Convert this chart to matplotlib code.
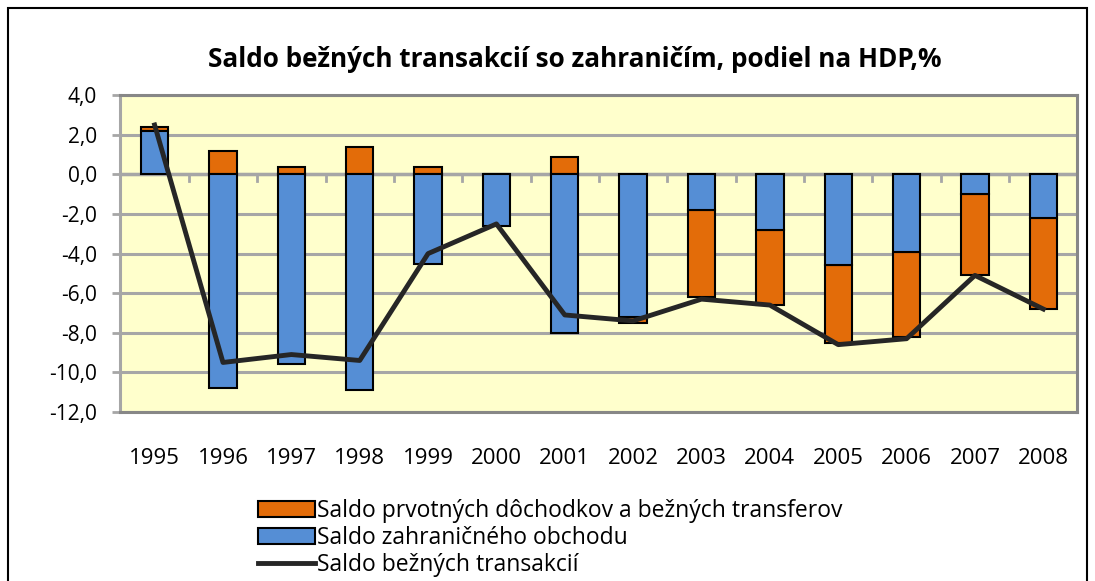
import numpy as np
import matplotlib.pyplot as plt
from matplotlib.patches import Rectangle

years = ['1995', '1996', '1997', '1998', '1999', '2000', '2001',
         '2002', '2003', '2004', '2005', '2006', '2007', '2008']
trade = [2.2, -10.8, -9.6, -10.9, -4.5, -2.6, -8.0,
         -7.2, -1.8, -2.8, -4.6, -3.9, -1.0, -2.2]
income = [0.2, 1.2, 0.4, 1.4, 0.4, 0.0, 0.9,
          -0.3, -4.4, -3.8, -3.9, -4.3, -4.1, -4.6]
current = [2.5, -9.5, -9.1, -9.4, -4.0, -2.5, -7.1,
           -7.4, -6.3, -6.6, -8.6, -8.3, -5.1, -6.8]

orange = '#E36C09'
blue = '#558ED5'
grid_c = '#A6A6A6'
font = 'Open Sans'
plt.rcParams['font.family'] = [font, 'DejaVu Sans']

fig = plt.figure(figsize=(10.95, 5.81), dpi=100)
fig.patches.append(Rectangle((0.007, -0.01), 0.986, 0.997, transform=fig.transFigure,
                             fill=False, edgecolor='#000000', linewidth=1.5))
ax = fig.add_axes([0.110, 0.291, 0.874, 0.545])
ax.set_facecolor('#FFFFCC')

x = np.arange(len(years))
trade = np.array(trade)
income = np.array(income)
# stack the income part on the same side of zero as the trade part, else from zero
inc_base = np.where(np.sign(income) == np.sign(trade), trade, 0.0)

w = 0.4
ax.bar(x, income, w, bottom=inc_base, color=orange, edgecolor='black', linewidth=1.5,
       label='Saldo prvotných dôchodkov a bežných transferov', zorder=3)
ax.bar(x, trade, w, color=blue, edgecolor='black', linewidth=1.5,
       label='Saldo zahraničného obchodu', zorder=3)
ax.plot(x, current, color='#262626', linewidth=3.5, label='Saldo bežných transakcií', zorder=4)

ax.set_xlim(-0.5, len(years) - 0.5)
ax.set_ylim(-12, 4)
ax.set_yticks(np.arange(-12, 5, 2))
ax.set_yticklabels([f'{v:.1f}'.replace('.', ',') for v in np.arange(-12, 5, 2)], fontsize=15)
ax.yaxis.grid(True, color=grid_c, linewidth=2.2, zorder=1)
ax.set_axisbelow(True)
ax.tick_params(axis='y', length=6, width=2, color=grid_c, pad=11)

# category axis drawn at zero
ax.axhline(0, color=grid_c, linewidth=2.5, zorder=2)
ax.set_xticks(x)
ax.set_xticklabels(years, fontsize=16)
ax.tick_params(axis='x', length=0, pad=26)
for b in x[:-1] + 0.5:
    ax.plot([b, b], [0, -0.35], color=grid_c, linewidth=2, zorder=2)

for s in ['left', 'bottom', 'top', 'right']:
    ax.spines[s].set_color('#878787')
    ax.spines[s].set_linewidth(2.2)
ax.spines['left'].set_color(grid_c)

fig.text(0.525, 0.897, 'Saldo bežných transakcií so zahraničím, podiel na HDP,%',
         ha='center', va='center', fontsize=18.8, fontweight='bold')

h, l = ax.get_legend_handles_labels()
order = [1, 2, 0]
leg = fig.legend([h[i] for i in order], [l[i] for i in order], loc='upper left',
                 bbox_to_anchor=(0.225, 0.16), frameon=False, fontsize=16.5,
                 handlelength=2.5, handletextpad=0.1, labelspacing=0.12, borderpad=0)

fig.savefig('out.png', dpi=100)
